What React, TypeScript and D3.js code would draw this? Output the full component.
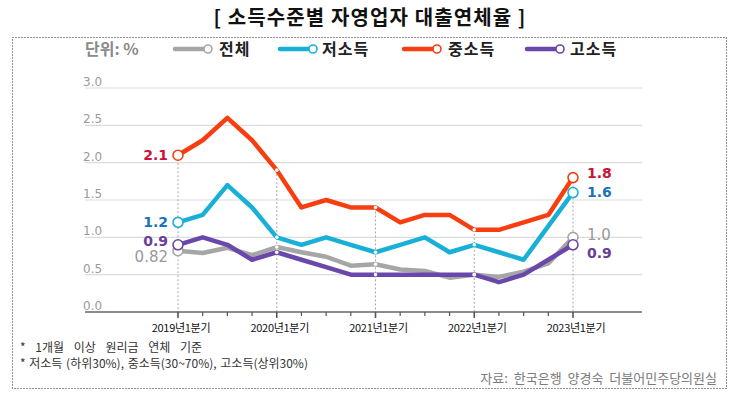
import * as d3 from "d3";

const quarters = [
  "2019Q1", "2019Q2", "2019Q3", "2019Q4",
  "2020Q1", "2020Q2", "2020Q3", "2020Q4",
  "2021Q1", "2021Q2", "2021Q3", "2021Q4",
  "2022Q1", "2022Q2", "2022Q3", "2022Q4",
  "2023Q1",
];
const yearLabels = ["2019년1분기", "2020년1분기", "2021년1분기", "2022년1분기", "2023년1분기"];

const total = [0.82, 0.79, 0.86, 0.76, 0.87, 0.8, 0.74, 0.62, 0.64, 0.57, 0.55, 0.46, 0.5, 0.47, 0.54, 0.65, 1.0];
const low = [1.2, 1.3, 1.7, 1.4, 1.0, 0.9, 1.0, 0.9, 0.8, 0.9, 1.0, 0.8, 0.9, 0.8, 0.7, 1.15, 1.6];
const mid = [2.1, 2.3, 2.6, 2.3, 1.9, 1.4, 1.5, 1.4, 1.4, 1.2, 1.3, 1.3, 1.1, 1.1, 1.2, 1.3, 1.8];
const high = [0.9, 1.0, 0.9, 0.7, 0.8, 0.7, 0.6, 0.5, 0.5, 0.5, 0.5, 0.5, 0.5, 0.4, 0.5, 0.7, 0.9];

const yTicks = [0, 0.5, 1, 1.5, 2, 2.5, 3];

const series = [
  { name: "전체", values: total, color: "#a6a6a6", text: "#999999", first: "0.82", last: "1.0", bold: false },
  { name: "저소득", values: low, color: "#19b0d8", text: "#1a72b8", first: "1.2", last: "1.6", bold: true },
  { name: "중소득", values: mid, color: "#f73e10", text: "#cc1236", first: "2.1", last: "1.8", bold: true },
  { name: "고소득", values: high, color: "#6a47aa", text: "#6a3d9a", first: "0.9", last: "0.9", bold: true },
];

// label centres (first / last), nudged apart where points sit close together
const firstLabelY = [257, 222, 155, 241];
const lastLabelY = [235, 192, 173, 253];

const KR = "'Noto Sans CJK KR', 'Noto Sans', sans-serif";
const NUM = "'DejaVu Sans', sans-serif";

export default function App() {
  const width = 738, height = 396;
  const x = d3.scaleLinear().domain([0, quarters.length - 1]).range([178, 573]);
  const y = d3.scaleLinear().domain([0, 3]).range([312, 88]);
  const line = d3.line<number>().x((_, i) => x(i)).y(d => y(d));

  const yearIdx = quarters.map((q, i) => (q.endsWith("Q1") ? i : -1)).filter(i => i >= 0);
  const lastI = quarters.length - 1;

  const legendItems = [
    { s: series[0], x0: 173, tx: 219 },
    { s: series[1], x0: 278, tx: 322 },
    { s: series[2], x0: 402, tx: 448 },
    { s: series[3], x0: 525, tx: 570 },
  ];

  return (
    <svg width={width} height={height} style={{ position: "absolute", left: 0, top: 0, background: "#fff" }}>
      <rect x={0} y={0} width={width} height={height} fill="#fff" />
      {/* title */}
      <text x={370} y={25} textAnchor="middle" fontFamily={KR} fontWeight={700} fontSize={20} letterSpacing={1.1} fill="#111">
        [ 소득수준별 자영업자 대출연체율 ]
      </text>
      {/* dotted frame */}
      <rect x={12.5} y={37.5} width={714} height={351} fill="none" stroke="#222" strokeWidth={1} strokeDasharray="1,2" />

      {/* legend */}
      <text x={85} y={55} fontFamily={KR} fontWeight={700} fontSize={16} fill="#8a8a8a">단위: %</text>
      {legendItems.map(({ s, x0, tx }) => (
        <g key={s.name}>
          <line x1={x0 + 2} x2={x0 + 32} y1={49} y2={49} stroke={s.color} strokeWidth={4.5} strokeLinecap="round" />
          <circle cx={x0 + 35} cy={49} r={4} fill="#fff" stroke={s.color} strokeWidth={1.6} />
          <text x={tx} y={55} fontFamily={KR} fontWeight={700} fontSize={16} letterSpacing={1} fill="#222">{s.name}</text>
        </g>
      ))}

      {/* grid */}
      {yTicks.map(t => (
        <g key={t}>
          {t > 0 && <line x1={85} x2={642} y1={y(t)} y2={y(t)} stroke="#dcdcdc" strokeWidth={1.2} />}
          <text x={83} y={y(t) - 2} fontFamily={NUM} fontSize={12} fill="#9a9a9a">{t.toFixed(1)}</text>
        </g>
      ))}

      {/* yearly dotted verticals */}
      {yearIdx.map(i => (
        <line key={i} x1={x(i)} x2={x(i)} y1={y(d3.max(series, s => s.values[i]) as number)} y2={y(0)}
          stroke="#a8a8a8" strokeWidth={1} strokeDasharray="2,2" />
      ))}

      {/* axis */}
      <line x1={85} x2={642} y1={y(0)} y2={y(0)} stroke="#666" strokeWidth={1.5} />
      {quarters.map((q, i) => (
        <line key={q} x1={x(i)} x2={x(i)} y1={y(0)} y2={y(0) + (q.endsWith("Q1") ? 6 : 4)}
          stroke="#555" strokeWidth={q.endsWith("Q1") ? 1.6 : 1.2} />
      ))}
      {yearIdx.map((i, k) => (
        <text key={i} x={x(i) + 3} y={332} textAnchor="middle" fontFamily={KR} fontSize={11} letterSpacing={-0.3} fill="#111">
          {yearLabels[k]}
        </text>
      ))}

      {/* lines */}
      {series.map(s => (
        <path key={s.name} d={line(s.values) as string} fill="none" stroke={s.color} strokeWidth={4.5} strokeLinejoin="round" />
      ))}
      {series.map(s => (
        <g key={s.name + "dots"}>
          {yearIdx.filter(i => i !== 0 && i !== lastI).map(i => (
            <circle key={i} cx={x(i)} cy={y(s.values[i])} r={1.8} fill="#fff" />
          ))}
          <circle cx={x(0)} cy={y(s.values[0])} r={5} fill="#fff" stroke={s.color} strokeWidth={1.6} />
          <circle cx={x(lastI)} cy={y(s.values[lastI])} r={5} fill="#fff" stroke={s.color} strokeWidth={1.6} />
        </g>
      ))}

      {/* value labels */}
      {series.map((s, k) => (
        <g key={s.name + "lab"}>
          <text x={168} y={firstLabelY[k] + 5} textAnchor="end" fontFamily={NUM}
            fontWeight={s.bold ? 700 : 400} fontSize={s.bold ? 14 : 15} fill={s.text}>{s.first}</text>
          <text x={587} y={lastLabelY[k] + 5} fontFamily={NUM}
            fontWeight={s.bold ? 700 : 400} fontSize={s.bold ? 14 : 15} fill={s.text}>{s.last}</text>
        </g>
      ))}

      {/* notes */}
      <text x={20} y={352} fontFamily={KR} fontSize={12} wordSpacing={7} fill="#333">* 1개월 이상 원리금 연체 기준</text>
      <text x={20} y={368} fontFamily={KR} fontSize={12} wordSpacing={1} fill="#333">* 저소득 (하위30%), 중소득(30~70%), 고소득(상위30%)</text>
      <text x={717} y={383} textAnchor="end" fontFamily={KR} fontSize={13} wordSpacing={3} fill="#7a7a7a">자료: 한국은행 양경숙 더불어민주당의원실</text>
    </svg>
  );
}
